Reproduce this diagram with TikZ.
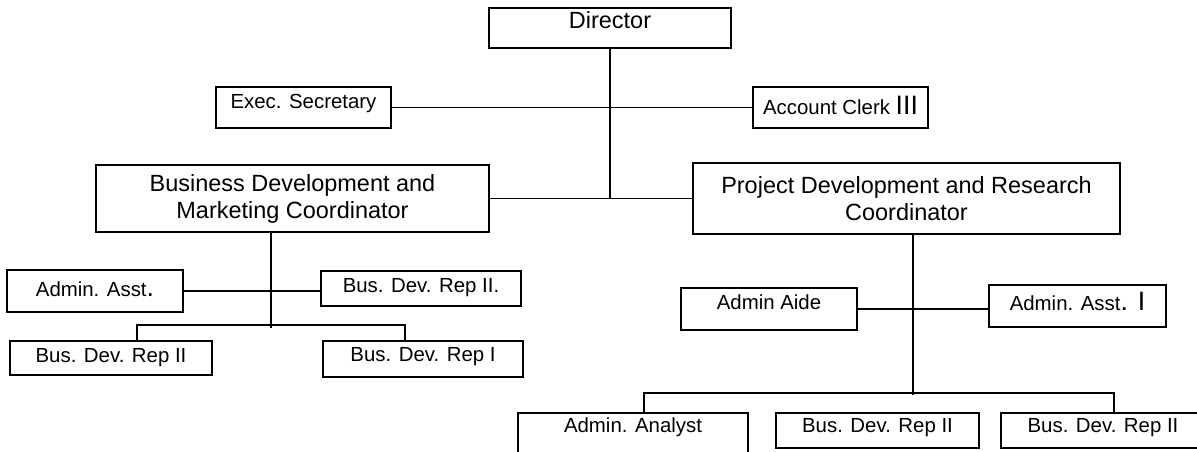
\documentclass[tikz,border=0pt]{standalone}
\usepackage{fontspec}
\setmainfont{Liberation Sans}
\usepackage{tikz}

\newcommand{\bigI}[1]{{\fontsize{20}{20}\selectfont #1}}

\begin{document}
\begin{tikzpicture}[x=0.75pt,y=-0.75pt,
    post/.style={draw,line width=1.2pt,inner sep=0pt,align=center,
        font=\fontsize{15.3}{18}\selectfont},
    head/.style={post,font=\fontsize{17.6}{20.3}\selectfont},
    lift/.style={text height=11pt,text depth=#1},
    link/.style={line width=1.1pt}]
\clip (0,0) rectangle (1197,451);

% top level
\node[head,text height=12.6pt,text depth=12pt,minimum width=181.5pt,minimum height=30pt] (dir) at (610,28) {Director};
\node[post,lift=9.75pt,minimum width=131.25pt,minimum height=30.75pt] (sec) at (303.5,107.5) {Exec. Secretary};
\node[post,lift=0pt,minimum width=131.25pt,minimum height=30.75pt] (clerk) at (840.5,107.5) {Account Clerk \bigI{III}};
\node[head,minimum width=294.75pt,minimum height=50.25pt] (bdm) at (292.5,198.5)
    {Business Development and\\Marketing Coordinator};
\node[head,minimum width=320.25pt,minimum height=53.25pt] (pdr) at (906.5,198.5)
    {Project Development and Research\\Coordinator};

\draw[link] (dir.south) -- (dir.south |- bdm.east);
\draw[link] (sec.east) -- (clerk.west);
\draw[link] (bdm.east) -- (pdr.west);

% business development side
\node[post,lift=2.25pt,minimum width=132pt,minimum height=31.5pt] (asst) at (95,291) {Admin. Asst\bigI{.}};
\node[post,lift=4.5pt,minimum width=150pt,minimum height=26.25pt] (repa) at (421,288.5) {Bus. Dev. Rep II.};
\node[post,lift=3.75pt,minimum width=151.5pt,minimum height=25.5pt] (repb) at (111,358) {Bus. Dev. Rep II};
\node[post,lift=6.75pt,minimum width=150pt,minimum height=27pt] (repc) at (423,359) {Bus. Dev. Rep I};

\draw[link] ([xshift=-16.125pt]bdm.south) -- ++(0,95);
\draw[link] (asst.east) -- (asst.east -| repa.west);
\draw[link] ([xshift=19.5pt]repb.north) -- ++(0,-15) -| ([xshift=-13.5pt]repc.north);

% project development side
\node[post,lift=9.75pt,minimum width=132pt,minimum height=31.5pt] (aide) at (769,309) {Admin Aide};
\node[post,lift=4.5pt,minimum width=132.75pt,minimum height=31.5pt] (asstb) at (1077.5,306) {Admin. Asst\bigI{. I}};
\node[post,lift=13.5pt,minimum width=172.5pt,minimum height=31.5pt] (analyst) at (633,434) {Admin. Analyst};
\node[post,lift=8.25pt,minimum width=152.25pt,minimum height=26.25pt] (repd) at (877.5,430.5) {Bus. Dev. Rep II};
\node[post,lift=8.25pt,minimum width=153pt,minimum height=26.25pt] (repe) at (1103,430.5) {Bus. Dev. Rep II};

\draw[link] ([xshift=4.875pt]pdr.south) -- ++(0,160);
\draw[link] (aide.east) -- (aide.east -| asstb.west);
\draw[link] ([xshift=8.25pt]analyst.north) -- ++(0,-19) -| ([xshift=8.25pt]repe.north);
\end{tikzpicture}
\end{document}
